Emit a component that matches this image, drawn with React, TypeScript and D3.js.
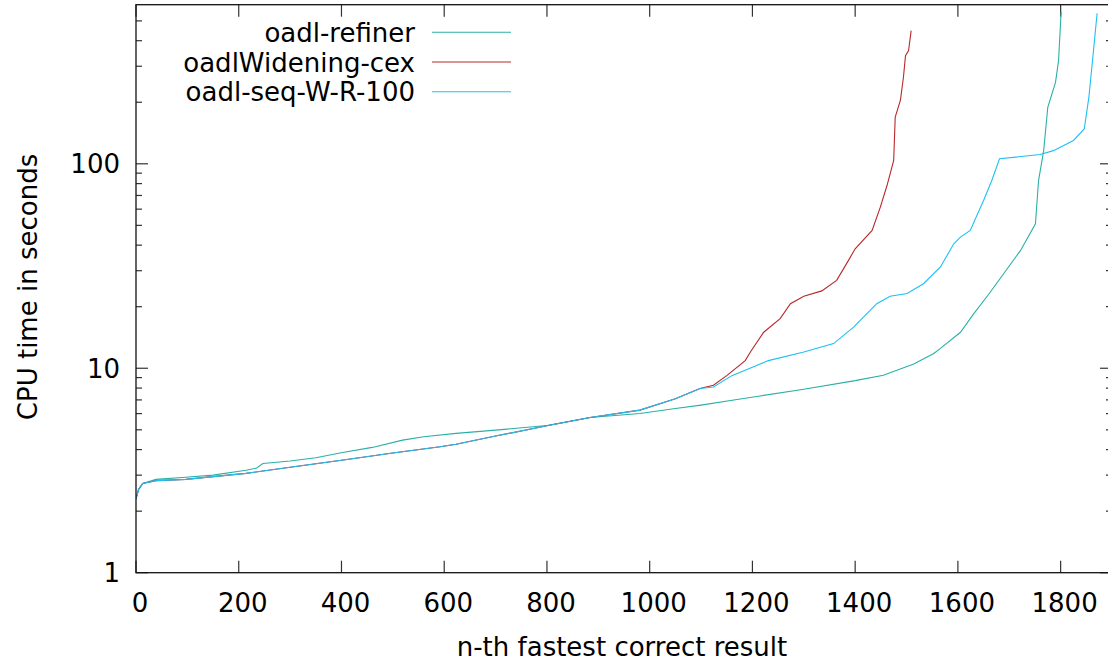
import React from "react";
import * as d3 from "d3";

// ---- data ----
const refinerRank = [0, 5, 13, 39, 97, 150, 214, 235, 247, 300, 350, 402, 460, 519, 560, 623, 700, 800, 884, 981, 1050, 1100, 1170, 1215, 1300, 1400, 1455, 1514, 1553, 1566, 1605, 1631, 1660, 1689, 1722, 1751, 1757, 1767, 1775, 1790, 1796, 1801];
const refinerTime = [2.3, 2.55, 2.73, 2.86, 2.93, 3.0, 3.17, 3.25, 3.42, 3.52, 3.65, 3.87, 4.1, 4.45, 4.62, 4.8, 4.98, 5.25, 5.74, 6.01, 6.35, 6.6, 7.03, 7.32, 7.9, 8.7, 9.25, 10.5, 11.8, 12.5, 15.0, 18.5, 23, 29, 37.7, 50.9, 82.8, 116, 189, 250, 320, 555];

const wideningRank = [0, 5, 13, 39, 97, 150, 214, 300, 400, 500, 592, 623, 700, 800, 884, 981, 1050, 1098, 1124, 1150, 1186, 1196, 1222, 1254, 1274, 1300, 1335, 1364, 1387, 1400, 1433, 1449, 1462, 1475, 1478, 1488, 1494, 1498, 1504, 1509];
const wideningTime = [2.3, 2.55, 2.73, 2.82, 2.86, 2.95, 3.06, 3.28, 3.55, 3.85, 4.13, 4.25, 4.66, 5.23, 5.74, 6.24, 7.1, 7.96, 8.26, 9.2, 10.9, 12.0, 15.0, 17.5, 20.7, 22.5, 23.9, 26.9, 33.7, 38.4, 47.2, 61.4, 78.3, 104, 169, 204, 265, 338, 358, 448];

const seqRank = [0, 5, 13, 39, 97, 150, 214, 300, 400, 500, 592, 623, 700, 800, 884, 981, 1050, 1098, 1124, 1160, 1200, 1231, 1300, 1358, 1397, 1442, 1468, 1501, 1533, 1566, 1592, 1605, 1624, 1650, 1666, 1681, 1760, 1786, 1825, 1846, 1855, 1864, 1871];
const seqTime = [2.3, 2.55, 2.73, 2.82, 2.86, 2.95, 3.06, 3.28, 3.55, 3.85, 4.13, 4.25, 4.66, 5.23, 5.74, 6.24, 7.1, 7.96, 8.1, 9.2, 10.1, 10.9, 12.0, 13.2, 15.9, 20.7, 22.5, 23.2, 25.9, 31.3, 40.6, 43.8, 47.2, 66.2, 82.8, 105.8, 111, 116, 130, 148, 212, 358, 545];

const seriesNames = ["oadl-refiner", "oadlWidening-cex", "oadl-seq-W-R-100"];
const seriesColors = ["#2ab0a6", "#b8282a", "#1cc0f4"];

const xTickValues = [0, 200, 400, 600, 800, 1000, 1200, 1400, 1600, 1800];
const yMajorTicks = [1, 10, 100];
const yMinorTicks = [2, 3, 4, 5, 6, 7, 8, 9, 20, 30, 40, 50, 60, 70, 80, 90, 200, 300, 400, 500];

const xLabel = "n-th fastest correct result";
const yLabel = "CPU time in seconds";

export default function App() {
  const W = 1108, H = 664;
  const left = 136, right = 1112, top = 4.7, bottom = 572.7;
  const x = d3.scaleLinear().domain([0, 1900]).range([left, right]);
  const y = d3.scaleLog().domain([1, 600]).range([bottom, top]);
  const font = "'DejaVu Sans', sans-serif";
  const fs = 26;

  const series = [
    { r: refinerRank, t: refinerTime },
    { r: wideningRank, t: wideningTime },
    { r: seqRank, t: seqTime },
  ];
  const line = d3.line<[number, number]>().x(d => x(d[0])).y(d => y(d[1]));

  const tickColor = "#333";
  return (
    <svg width={W} height={H} style={{ position: "absolute", left: 0, top: 0, background: "#fff" }} fontFamily={font}>
      <defs>
        <clipPath id="plot">
          <rect x={left} y={top} width={right - left} height={bottom - top} />
        </clipPath>
      </defs>
      {xTickValues.map(v => (
        <g key={"xt" + v}>
          <line x1={x(v)} x2={x(v)} y1={bottom} y2={bottom - 12} stroke={tickColor} strokeWidth={1.2} />
          <line x1={x(v)} x2={x(v)} y1={top} y2={top + 12} stroke={tickColor} strokeWidth={1.2} />
          <text x={x(v) + 4} y={612} fontSize={fs} textAnchor="middle" fill="#000">{v}</text>
        </g>
      ))}
      {yMajorTicks.map(v => (
        <g key={"ym" + v}>
          <line x1={left} x2={left + 12} y1={y(v)} y2={y(v)} stroke={tickColor} strokeWidth={1.2} />
          <line x1={right} x2={right - 12} y1={y(v)} y2={y(v)} stroke={tickColor} strokeWidth={1.2} />
          <text x={120} y={y(v) + 9.5} fontSize={fs} textAnchor="end" fill="#000">{v}</text>
        </g>
      ))}
      {yMinorTicks.map(v => (
        <g key={"yn" + v}>
          <line x1={left} x2={left + 6} y1={y(v)} y2={y(v)} stroke={tickColor} strokeWidth={1.2} />
          <line x1={right} x2={right - 6} y1={y(v)} y2={y(v)} stroke={tickColor} strokeWidth={1.2} />
        </g>
      ))}
      <g clipPath="url(#plot)">
        {series.map((s, i) => (
          <path key={i} d={line(s.r.map((r, j) => [r, s.t[j]] as [number, number])) || ""} fill="none" stroke={seriesColors[i]} strokeWidth={1.1} />
        ))}
      </g>
      <rect x={left} y={top} width={right - left} height={bottom - top} fill="none" stroke="#111" strokeWidth={1.3} />
      {seriesNames.map((n, i) => {
        const ly = 32.3 + i * 29.7;
        return (
          <g key={n}>
            <text x={415} y={ly + 9.5} fontSize={fs} textAnchor="end" fill="#000">{n}</text>
            <line x1={432} x2={511} y1={ly} y2={ly} stroke={seriesColors[i]} strokeWidth={1.1} />
          </g>
        );
      })}
      <text x={622} y={656} fontSize={fs} textAnchor="middle" fill="#000">{xLabel}</text>
      <text transform="translate(37,287) rotate(-90)" fontSize={fs} textAnchor="middle" fill="#000">{yLabel}</text>
    </svg>
  );
}
